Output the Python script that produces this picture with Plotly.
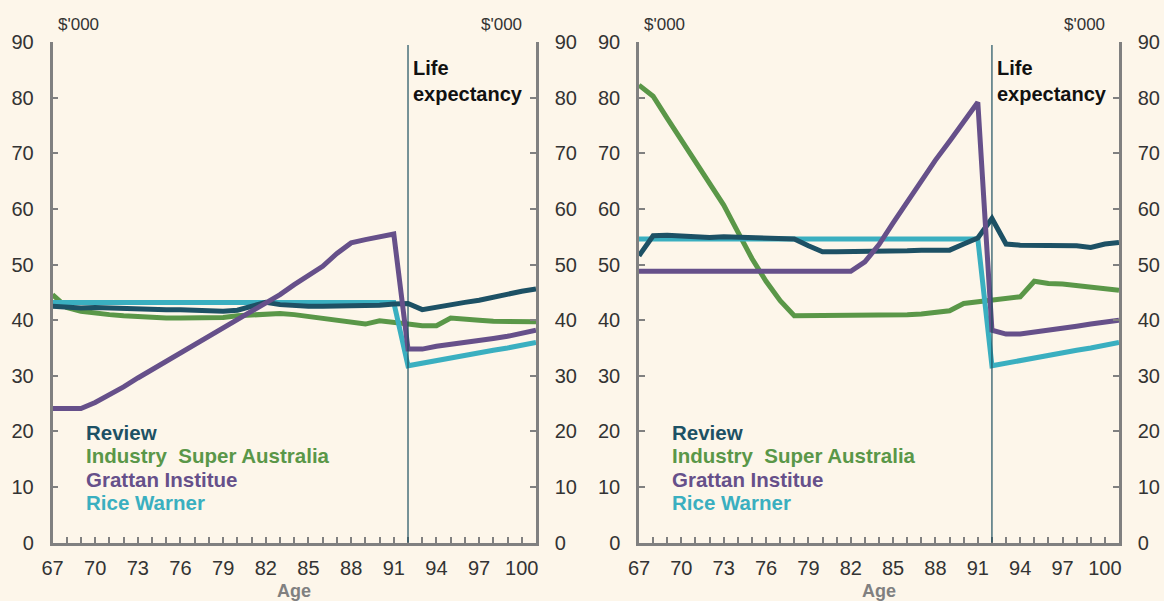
import plotly.graph_objects as go

ages = list(range(67, 102))
tick_ages = [67, 70, 73, 76, 79, 82, 85, 88, 91, 94, 97, 100]
life_expectancy = 92

series_names = ["Review", "Industry  Super Australia", "Grattan Institue", "Rice Warner"]
colors = ["#1d5165", "#5a9748", "#66508a", "#3aafc0"]

review_L = [42.5, 42.3, 42.2, 42.3, 42.2, 42.0, 41.9, 41.9, 41.9, 41.9, 41.8, 41.6, 41.6, 41.8, 42.5, 43.2, 42.8,
            42.6, 42.5, 42.5, 42.5, 42.6, 42.7, 42.7, 42.9, 43.0, 41.9, 42.4, 42.7, 43.2, 43.6, 44.2, 44.7, 45.2, 45.6]
isa_L = [44.6, 42.3, 41.6, 41.2, 41.0, 40.8, 40.6, 40.5, 40.4, 40.4, 40.4, 40.4, 40.5, 40.8, 40.9, 41.0, 41.2,
         41.0, 40.7, 40.3, 40.0, 39.7, 39.3, 39.9, 39.5, 39.3, 39.0, 39.0, 40.4, 40.1, 40.0, 39.8, 39.7, 39.7, 39.7]
grattan_L = [24.1, 24.1, 24.1, 25.2, 26.5, 28.0, 29.6, 31.1, 32.6, 34.0, 35.4, 37.0, 38.6, 40.1, 41.6, 43.1, 44.6,
             46.4, 48.0, 49.7, 52.0, 53.9, 54.5, 54.9, 55.5, 34.8, 34.8, 35.3, 35.6, 35.9, 36.4, 36.7, 37.1, 37.6, 38.2]
rice_L = [43.2, 43.2, 43.2, 43.2, 43.2, 43.2, 43.2, 43.2, 43.2, 43.2, 43.2, 43.2, 43.2, 43.2, 43.2, 43.2, 43.2,
          43.2, 43.2, 43.2, 43.2, 43.2, 43.2, 43.2, 43.2, 31.8, 32.3, 32.7, 33.2, 33.7, 34.1, 34.6, 35.0, 35.5, 36.0]

review_R = [51.6, 55.2, 55.3, 55.1, 55.0, 54.9, 55.0, 54.9, 54.7, 54.7, 54.7, 54.6, 53.4, 52.3, 52.3, 52.3, 52.3,
            52.4, 52.4, 52.5, 52.6, 52.6, 52.6, 53.7, 54.8, 58.3, 53.7, 53.5, 53.5, 53.5, 53.5, 53.4, 53.1, 53.7, 54.0]
isa_R = [82.3, 80.3, 76.3, 72.4, 68.4, 64.6, 60.7, 55.9, 51.1, 47.0, 43.5, 40.8, 40.8, 40.8, 40.8, 40.8, 40.8,
         40.8, 40.9, 41.0, 41.1, 41.3, 41.7, 43.0, 43.3, 43.5, 43.8, 44.2, 47.0, 46.6, 46.5, 46.2, 45.9, 45.6, 45.4]
grattan_R = [48.8, 48.8, 48.8, 48.8, 48.8, 48.8, 48.8, 48.8, 48.8, 48.8, 48.8, 48.8, 48.8, 48.8, 48.8, 48.8, 50.5,
             53.6, 57.5, 61.4, 65.3, 68.8, 72.2, 75.6, 79.2, 38.2, 37.5, 37.5, 37.8, 38.2, 38.5, 38.9, 39.3, 39.6, 40.0]
rice_R = [54.6, 54.6, 54.6, 54.6, 54.6, 54.6, 54.6, 54.6, 54.6, 54.6, 54.6, 54.6, 54.6, 54.6, 54.6, 54.6, 54.6,
          54.6, 54.6, 54.6, 54.6, 54.6, 54.6, 54.6, 54.6, 31.8, 32.3, 32.7, 33.2, 33.7, 34.1, 34.6, 35.0, 35.5, 36.0]

panels = [
    ("x", "y", [review_L, isa_L, grattan_L, rice_L]),
    ("x2", "y2", [review_R, isa_R, grattan_R, rice_R]),
]

W, H = 1164, 601
BG = "#fdf6ea"
AX = "#808080"
TICKFONT = dict(family="Liberation Sans, Arial", size=20, color="#333333")

fig = go.Figure()
draw_order = [1, 3, 0, 2]
for xa, ya, data in panels:
    for i in draw_order:
        fig.add_trace(go.Scatter(x=ages, y=data[i], xaxis=xa, yaxis=ya, mode="lines",
                                 line=dict(color=colors[i], width=5), showlegend=False,
                                 hoverinfo="skip"))

def px_x(p):
    return p / W

def px_y(p):
    return 1 - p / H

domL = [px_x(52.5), px_x(536)]
domR = [px_x(639), px_x(1119)]
ydom = [px_y(542.5), px_y(42.3)]

def xaxis(domain, anchor):
    return dict(domain=domain, anchor=anchor, range=[67, 101], tickmode="array", tickvals=tick_ages,
                ticks="inside", ticklen=6, tickwidth=1.5, tickcolor=AX, showline=True, linecolor=AX,
                linewidth=2.5, showgrid=False, zeroline=False, tickfont=TICKFONT, ticklabelstandoff=6,
                automargin=False,
                minor=dict(dtick=1, tick0=67, ticks="inside", ticklen=6, tickwidth=1.5, tickcolor=AX))

def yaxis(domain, anchor, side, overlay=None):
    d = dict(domain=domain, anchor=anchor, range=[0, 90], dtick=10, tick0=0, ticks="inside", ticklen=6,
             tickwidth=1.5, tickcolor=AX, showline=True, linecolor=AX, linewidth=2.5, showgrid=False,
             zeroline=False, tickfont=TICKFONT, side=side, ticklabelstandoff=12, automargin=False)
    if overlay:
        d["overlaying"] = overlay
    return d

fig.update_layout(
    width=W, height=H, paper_bgcolor=BG, plot_bgcolor=BG,
    margin=dict(l=0, r=0, t=0, b=0, autoexpand=False),
    xaxis=xaxis(domL, "y"),
    xaxis2=xaxis(domR, "y2"),
    yaxis=yaxis(ydom, "x", "left"),
    yaxis2=yaxis(ydom, "x2", "left"),
    yaxis3=yaxis(ydom, "x", "right", "y"),
    yaxis4=yaxis(ydom, "x2", "right", "y2"),
)

fig.add_trace(go.Scatter(x=[None], y=[None], xaxis="x", yaxis="y3", showlegend=False))
fig.add_trace(go.Scatter(x=[None], y=[None], xaxis="x2", yaxis="y4", showlegend=False))

annotations = []
shapes = []
for xa, ya, dom in [("x", "y", domL), ("x2", "y2", domR)]:
    shapes.append(dict(type="line", xref=xa, yref="paper", x0=life_expectancy, x1=life_expectancy,
                       y0=ydom[0], y1=px_y(45), line=dict(color="#1d4f60", width=1.2), layer="above"))
    annotations.append(dict(xref=xa, yref="paper", x=life_expectancy, y=px_y(55), xanchor="left",
                            yanchor="top", xshift=3, showarrow=False, align="left",
                            text="<b>Life<br>expectancy</b>",
                            font=dict(family="Liberation Sans, Arial", size=20, color="#111111")))
    annotations.append(dict(xref="paper", yref="paper", x=dom[0], y=px_y(25), xanchor="left",
                            yanchor="middle", xshift=3, showarrow=False, text="$'000",
                            font=dict(family="Liberation Sans, Arial", size=17, color="#333333")))
    annotations.append(dict(xref="paper", yref="paper", x=dom[1], y=px_y(25), xanchor="right",
                            yanchor="middle", xshift=-12, showarrow=False, text="$'000",
                            font=dict(family="Liberation Sans, Arial", size=17, color="#333333")))
    annotations.append(dict(xref="paper", yref="paper", x=(dom[0] + dom[1]) / 2, y=px_y(591),
                            xanchor="center", yanchor="middle", showarrow=False, text="<b>Age</b>",
                            font=dict(family="Liberation Sans, Arial", size=18, color="#808080")))
    for k, name in enumerate(series_names):
        annotations.append(dict(xref="paper", yref="paper", x=dom[0], y=px_y(432 + 23.5 * k),
                                xanchor="left", yanchor="middle", xshift=31, showarrow=False,
                                text="<b>" + name + "</b>",
                                font=dict(family="Liberation Sans, Arial", size=20.5, color=colors[k])))

fig.update_layout(annotations=annotations, shapes=shapes)
fig.write_html("out.html", config={"displayModeBar": False},
               post_script="document.body.style.margin='0';document.body.style.background='%s';" % BG)
